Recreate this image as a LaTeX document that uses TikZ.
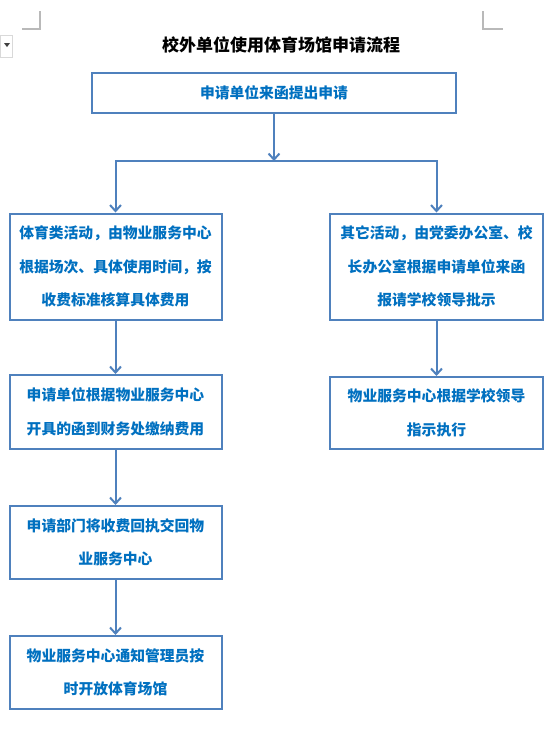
\documentclass[tikz,border=0pt]{standalone}
\usepackage{fontspec}
\newfontfamily\cjk{Noto Sans CJK SC}
\usetikzlibrary{arrows.meta, positioning}
\definecolor{boxline}{HTML}{4F81BD}
\definecolor{boxtext}{HTML}{0070C0}

\tikzset{
  stepbox/.style={draw=boxline, line width=2pt, fill=white, align=center,
    text=boxtext, font=\cjk\bfseries\fontsize{14.8}{33.5}\selectfont, inner sep=0pt},
  flow/.style={draw=boxline, line width=2pt, -{Straight Barb[length=6pt,width=11pt,line width=2pt]}},
  cropmark/.style={draw=gray!55, line width=1.2pt}
}

\begin{document}
\begin{tikzpicture}[x=1pt, y=-1pt]
  \useasboundingbox[fill=white] (0,0) rectangle (556,729);

  % Marques de page
  \draw[cropmark] (22,29) -- (40,29) -- (40,11);
  \draw[cropmark] (483,11) -- (483,29) -- (503,29);
  \draw[draw=gray!30, line width=0.8pt] (0.5,35) rectangle (12,57);
  \fill[black!75] (4,43) -- (10,43) -- (7,47) -- cycle;

  % Titre
  \node[font=\cjk\bfseries\fontsize{17}{20}\selectfont] (title) at (281,45) {校外单位使用体育场馆申请流程};

  % Cases
  \node[stepbox, minimum width=364pt, minimum height=40pt] (apply) at (274,93) {申请单位来函提出申请};
  \node[stepbox, minimum width=212pt, minimum height=106pt] (sport) at (115.5,266.5)
    {体育类活动，由物业服务中心\\根据场次、具体使用时间，按\\收费标准核算具体费用};
  \node[stepbox, minimum width=213pt, minimum height=106pt] (other) at (436.5,266.5)
    {其它活动，由党委办公室、校\\长办公室根据申请单位来函\\报请学校领导批示};
  \node[stepbox, minimum width=212pt, minimum height=74pt] (pay) at (115.5,412)
    {申请单位根据物业服务中心\\开具的函到财务处缴纳费用};
  \node[stepbox, minimum width=213pt, minimum height=72pt] (exec) at (436.5,413)
    {物业服务中心根据学校领导\\指示执行};
  \node[stepbox, minimum width=212pt, minimum height=73pt] (receipt) at (115.5,542.5)
    {申请部门将收费回执交回物\\业服务中心};
  \node[stepbox, minimum width=212pt, minimum height=73pt] (open) at (115.5,672.5)
    {物业服务中心通知管理员按\\时开放体育场馆};

  % Flèches
  \coordinate (split) at (apply.south |- 0,161);
  \draw[flow] (apply.south) -- (split);
  \draw[flow] (split) -| (sport.north);
  \draw[flow] (split) -| (other.north);
  \draw[flow] (sport) -- (pay);
  \draw[flow] (other) -- (exec);
  \draw[flow] (pay) -- (receipt);
  \draw[flow] (receipt) -- (open);
\end{tikzpicture}
\end{document}
